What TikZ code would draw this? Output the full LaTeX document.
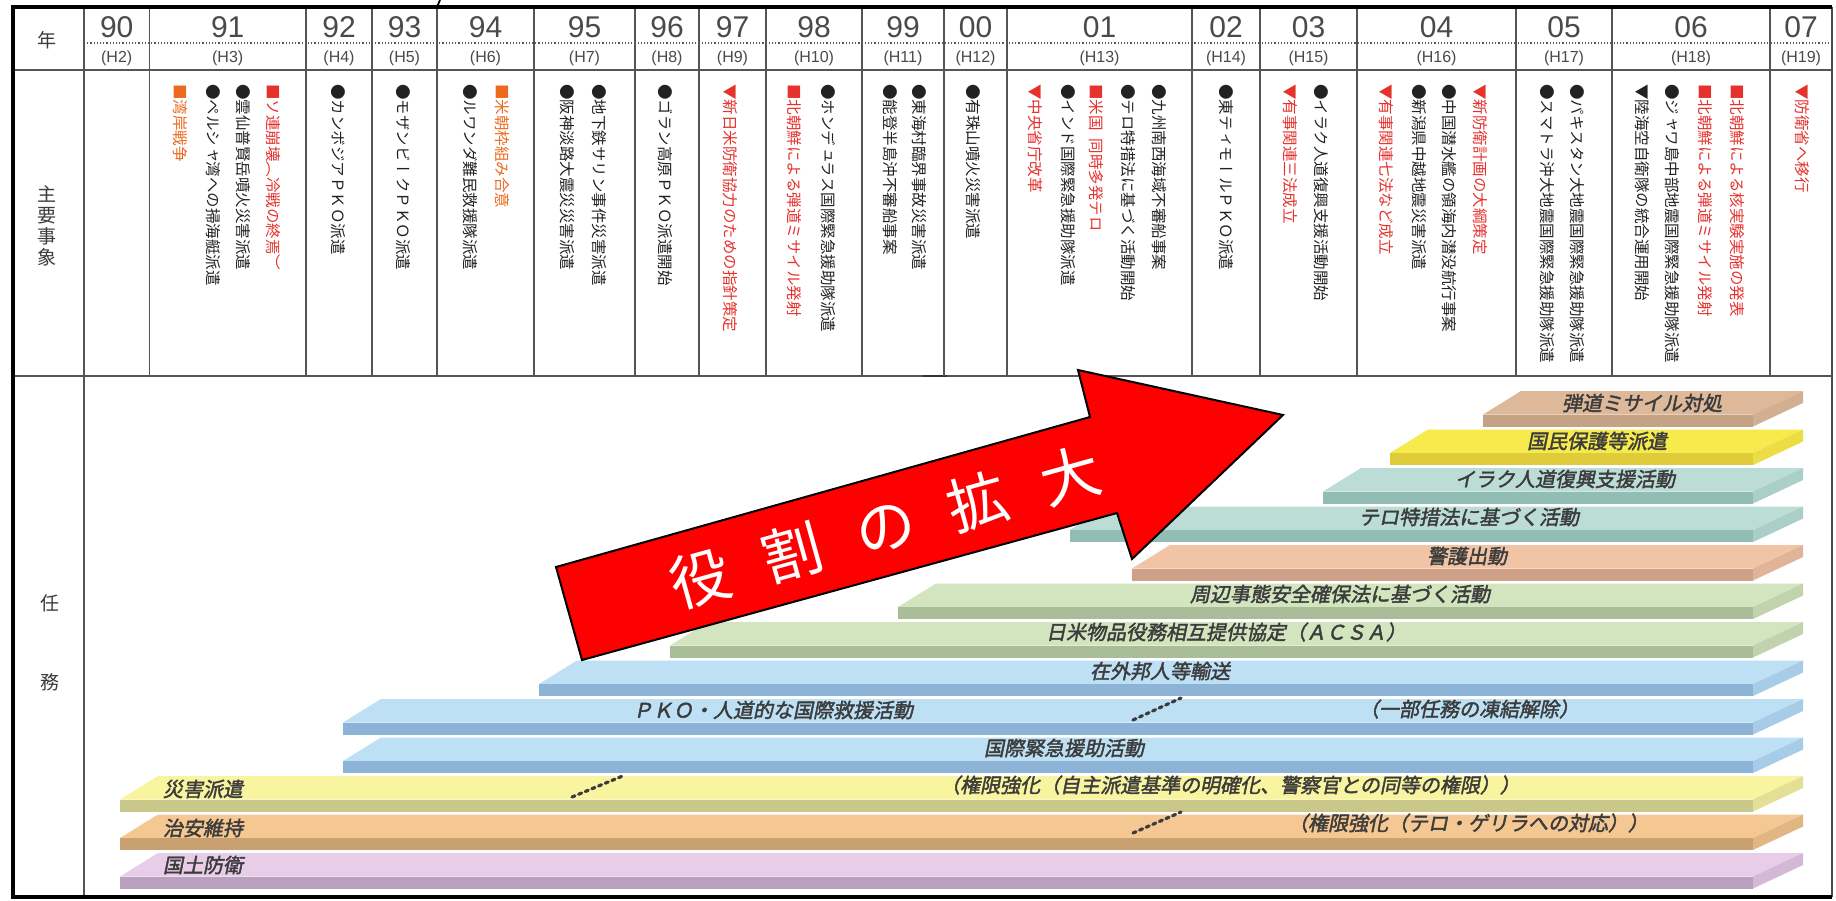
\documentclass[tikz,border=0pt]{standalone}
\usepackage{fontspec}
\setmainfont{Noto Sans CJK JP}
\newfontfamily\tatefont[Vertical=RotatedGlyphs]{Noto Sans CJK JP}
\newfontfamily\numfont{Liberation Sans}
\newfontfamily\slabfont[FakeSlant=0.2,FakeBold=2]{Noto Sans CJK JP}

\definecolor{redmark}{HTML}{E5322D}
\definecolor{orangemark}{HTML}{EC6A1E}
\definecolor{blackmark}{HTML}{222222}
\definecolor{yeargray}{HTML}{4A4A4A}
\definecolor{linegray}{HTML}{555555}
\definecolor{labelgray}{HTML}{3C3C3C}
\definecolor{purpletop}{HTML}{E8CDE8}
\definecolor{purplefront}{HTML}{B9A0BE}
\definecolor{orangetop}{HTML}{F5C893}
\definecolor{orangefront}{HTML}{C9A070}
\definecolor{yellowtop}{HTML}{F8F4A0}
\definecolor{yellowfront}{HTML}{C9C88A}
\definecolor{bluetop}{HTML}{BDE0F5}
\definecolor{bluefront}{HTML}{8DB4D6}
\definecolor{greentop}{HTML}{D2E5BE}
\definecolor{greenfront}{HTML}{A9BE98}
\definecolor{peachtop}{HTML}{F0C4A4}
\definecolor{peachfront}{HTML}{CFA088}
\definecolor{tealtop}{HTML}{BCDDD6}
\definecolor{tealfront}{HTML}{92BDB5}
\definecolor{brighttop}{HTML}{F6EA4C}
\definecolor{brightfront}{HTML}{E0CC3A}
\definecolor{tantop}{HTML}{DDB99A}
\definecolor{tanfront}{HTML}{C4A285}

\tikzset{
  frame/.style={line width=1.6pt, draw=black},
  gridline/.style={line width=0.6pt, draw=linegray},
  yeardots/.style={densely dotted, line width=0.6pt, draw=linegray},
  yearnum/.style={font=\numfont\fontsize{15}{15}\selectfont, text=yeargray, inner sep=0pt},
  heisei/.style={font=\numfont\fontsize{8}{8}\selectfont, text=yeargray, inner sep=0pt},
  sidehead/.style={font=\fontsize{9.5}{10.4}\selectfont, text=labelgray, inner sep=0pt, align=center},
  event/.style={rotate=-90, anchor=west, inner sep=0pt, font=\tatefont\fontsize{7.75}{7.75}\selectfont},
  blackev/.style={event, text=blackmark},
  redev/.style={event, text=redmark},
  orangeev/.style={event, text=orangemark},
  slablabel/.style={font=\slabfont\fontsize{10}{10}\selectfont, text=labelgray, inner sep=0pt},
  dotlink/.style={dotted, line width=1.6pt, line cap=round, draw=labelgray},
  bigarrow/.style={fill=red, draw=black, line width=1pt, line join=miter},
  arrowtext/.style={font=\fontsize{30}{30}\selectfont, text=white, inner sep=0pt}
}

% STUFE: #1 hintere Kante (y), #2 linke vordere Ecke (x), #3 Oberseite, #4 Vorderseite
\newcommand{\taskslab}[4]{%
  \fill[#3] (#2,#1+23.5) -- (#2+38,#1) -- (1803,#1) -- (1753,#1+23.5) -- cycle;
  \fill[#4] (#2,#1+23.5) rectangle (1753,#1+35.5);
  \fill[#3!55!#4] (1753,#1+23.5) -- (1803,#1) -- (1803,#1+12) -- (1753,#1+35.5) -- cycle;
}

\begin{document}
\begin{tikzpicture}[x=0.5pt,y=-0.5pt]

\fill[white] (0,0) rectangle (1836,900);
\useasboundingbox (0,0) rectangle (1836,900);

%TABELLE (Linien)
\draw[gridline] (13,70) -- (1832,70);
\draw[gridline] (13,376) -- (1832,376);
\draw[line width=1.3pt, draw=black!80] (923,376) -- (947,376);
\draw[yeardots] (84,43) -- (1832,43);
\draw[gridline] (84,7) -- (84,897);
\draw[gridline] (149.5,7) -- (149.5,376);
\draw[gridline] (306,7) -- (306,376);
\draw[gridline] (372,7) -- (372,376);
\draw[gridline] (437,7) -- (437,376);
\draw[gridline] (534,7) -- (534,376);
\draw[gridline] (635,7) -- (635,376);
\draw[gridline] (699,7) -- (699,376);
\draw[gridline] (766,7) -- (766,376);
\draw[gridline] (862,7) -- (862,376);
\draw[gridline] (944,7) -- (944,376);
\draw[gridline] (1007,7) -- (1007,376);
\draw[gridline] (1192,7) -- (1192,376);
\draw[gridline] (1260,7) -- (1260,376);
\draw[gridline] (1357,7) -- (1357,376);
\draw[gridline] (1516,7) -- (1516,376);
\draw[gridline] (1612,7) -- (1612,376);
\draw[gridline] (1770,7) -- (1770,376);
\draw[line width=0.8pt, draw=black!70] (1832,7) -- (1832,897);
\draw[frame] (1832,7) -- (13,7) -- (13,897) -- (1832,897);
\draw[line width=0.9pt] (440,0) -- (437,7);

%KOPFZEILE (Jahre)
\node[sidehead] (nen) at (47,40) {年};
\node[yearnum] (y90) at (116.7,27) {90};
\node[yearnum] (y91) at (227.7,27) {91};
\node[yearnum] (y92) at (339,27) {92};
\node[yearnum] (y93) at (404.5,27) {93};
\node[yearnum] (y94) at (485.5,27) {94};
\node[yearnum] (y95) at (584.5,27) {95};
\node[yearnum] (y96) at (667,27) {96};
\node[yearnum] (y97) at (732.5,27) {97};
\node[yearnum] (y98) at (814,27) {98};
\node[yearnum] (y99) at (903,27) {99};
\node[yearnum] (y00) at (975.5,27) {00};
\node[yearnum] (y01) at (1099.5,27) {01};
\node[yearnum] (y02) at (1226,27) {02};
\node[yearnum] (y03) at (1308.5,27) {03};
\node[yearnum] (y04) at (1436.5,27) {04};
\node[yearnum] (y05) at (1564,27) {05};
\node[yearnum] (y06) at (1691,27) {06};
\node[yearnum] (y07) at (1801,27) {07};

\node[heisei] (h02) at (116.7,58) {(H2)};
\node[heisei] (h03) at (227.7,58) {(H3)};
\node[heisei] (h04) at (339,58) {(H4)};
\node[heisei] (h05) at (404.5,58) {(H5)};
\node[heisei] (h06) at (485.5,58) {(H6)};
\node[heisei] (h07) at (584.5,58) {(H7)};
\node[heisei] (h08) at (667,58) {(H8)};
\node[heisei] (h09) at (732.5,58) {(H9)};
\node[heisei] (h10) at (814,58) {(H10)};
\node[heisei] (h11) at (903,58) {(H11)};
\node[heisei] (h12) at (975.5,58) {(H12)};
\node[heisei] (h13) at (1099.5,58) {(H13)};
\node[heisei] (h14) at (1226,58) {(H14)};
\node[heisei] (h15) at (1308.5,58) {(H15)};
\node[heisei] (h16) at (1436.5,58) {(H16)};
\node[heisei] (h17) at (1564,58) {(H17)};
\node[heisei] (h18) at (1691,58) {(H18)};
\node[heisei] (h19) at (1801,58) {(H19)};

%ZEILE: MAIN EVENTS
\node[sidehead] (mainev) at (47,226) {主\\要\\事\\象};

%SPALTE 91
\node[orangeev] (e91a) at (180,84) {■湾岸戦争};
\node[blackev] (e91b) at (213.5,84) {●ペルシャ湾への掃海艇派遣};
\node[blackev] (e91c) at (243,84) {●雲仙普賢岳噴火災害派遣};
\node[redev] (e91d) at (273,84) {■ソ連崩壊（冷戦の終焉）};

%SPALTE 92 / 93
\node[blackev] (e92a) at (338,84) {●カンボジアＰＫＯ派遣};
\node[blackev] (e93a) at (403,84) {●モザンビークＰＫＯ派遣};

%SPALTE 94
\node[blackev] (e94a) at (470.5,84) {●ルワンダ難民救援隊派遣};
\node[orangeev] (e94b) at (502,84) {■米朝枠組み合意};

%SPALTE 95
\node[blackev] (e95a) at (567,84) {●阪神淡路大震災災害派遣};
\node[blackev] (e95b) at (599,84) {●地下鉄サリン事件災害派遣};

%SPALTE 96 / 97
\node[blackev] (e96a) at (665,84) {●ゴラン高原ＰＫＯ派遣開始};
\node[redev] (e97a) at (730.5,84) {▼新日米防衛協力のための指針策定};

%SPALTE 98
\node[redev] (e98a) at (794,84) {■北朝鮮による弾道ミサイル発射};
\node[blackev] (e98b) at (828.5,84) {●ホンデュラス国際緊急援助隊派遣};

%SPALTE 99 / 00
\node[blackev] (e99a) at (890.6,84) {●能登半島沖不審船事案};
\node[blackev] (e99b) at (919.5,84) {●東海村臨界事故災害派遣};
\node[blackev] (e00a) at (973.7,84) {●有珠山噴火災害派遣};

%SPALTE 01
\node[redev] (e01a) at (1035,84) {▼中央省庁改革};
\node[blackev] (e01b) at (1068.6,84) {●インド国際緊急援助隊派遣};
\node[redev] (e01c) at (1096,84) {■米国\hspace{0.5em}同時多発テロ};
\node[blackev] (e01d) at (1128,84) {●テロ特措法に基づく活動開始};
\node[blackev] (e01e) at (1159.5,84) {●九州南西海域不審船事案};

%SPALTE 02 / 03
\node[blackev] (e02a) at (1226,84) {●東ティモールＰＫＯ派遣};
\node[redev] (e03a) at (1290,84) {▼有事関連三法成立};
\node[blackev] (e03b) at (1321,84) {●イラク人道復興支援活動開始};

%SPALTE 04
\node[redev] (e04a) at (1386,84) {▼有事関連七法など成立};
\node[blackev] (e04b) at (1419,84) {●新潟県中越地震災害派遣};
\node[blackev] (e04c) at (1449.5,84) {●中国潜水艦の領海内潜没航行事案};
\node[redev] (e04d) at (1480,84) {▼新防衛計画の大綱策定};

%SPALTE 05
\node[blackev] (e05a) at (1547,84) {●スマトラ沖大地震国際緊急援助隊派遣};
\node[blackev] (e05b) at (1577,84) {●パキスタン大地震国際緊急援助隊派遣};

%SPALTE 06 / 07
\node[blackev] (e06a) at (1642,84) {▼陸海空自衛隊の統合運用開始};
\node[blackev] (e06b) at (1672.6,84) {●ジャワ島中部地震国際緊急援助隊派遣};
\node[redev] (e06c) at (1705,84) {■北朝鮮による弾道ミサイル発射};
\node[redev] (e06d) at (1737.5,84) {■北朝鮮による核実験実施の発表};
\node[redev] (e07a) at (1802,84) {▼防衛省へ移行};

%ZEILE: TASKS
\node[sidehead] (nin) at (50,603) {任};
\node[sidehead] (mu) at (50,682) {務};

%STUFE NR. 0 bis 12 (von unten)
\taskslab{853}{120}{purpletop}{purplefront}
\taskslab{814.5}{120}{orangetop}{orangefront}
\taskslab{776}{120}{yellowtop}{yellowfront}
\taskslab{737.5}{343}{bluetop}{bluefront}
\taskslab{699}{343}{bluetop}{bluefront}
\taskslab{660.5}{539}{bluetop}{bluefront}
\taskslab{622}{670}{greentop}{greenfront}
\taskslab{583.5}{898}{greentop}{greenfront}
\taskslab{545}{1132}{peachtop}{peachfront}
\taskslab{506.5}{1070}{tealtop}{tealfront}
\taskslab{468}{1323}{tealtop}{tealfront}
\taskslab{429.5}{1390}{brighttop}{brightfront}
\taskslab{391}{1483}{tantop}{tanfront}

\node[slablabel] (t0) at (203,865) {国土防衛};
\node[slablabel] (t1) at (203,828) {治安維持};
\node[slablabel] (t1b) at (1468,823) {（権限強化（テロ・ゲリラへの対応））};
\node[slablabel] (t2) at (203,789) {災害派遣};
\node[slablabel] (t2b) at (1230,785) {（権限強化（自主派遣基準の明確化、警察官との同等の権限））};
\node[slablabel] (t3) at (1064,748) {国際緊急援助活動};
\node[slablabel] (t4) at (773,710) {ＰＫＯ・人道的な国際救援活動};
\node[slablabel] (t4b) at (1469,709) {（一部任務の凍結解除）};
\node[slablabel] (t5) at (1160,671) {在外邦人等輸送};
\node[slablabel] (t6) at (1226,632) {日米物品役務相互提供協定（ＡＣＳＡ）};
\node[slablabel] (t7) at (1340,594) {周辺事態安全確保法に基づく活動};
\node[slablabel] (t8) at (1467,556) {警護出動};
\node[slablabel] (t9) at (1469,517) {テロ特措法に基づく活動};
\node[slablabel] (t10) at (1565,479) {イラク人道復興支援活動};
\node[slablabel] (t11) at (1597,441) {国民保護等派遣};
\node[slablabel] (t12) at (1642,403) {弾道ミサイル対処};

\draw[dotlink] (572,797) -- (625,775);
\draw[dotlink] (1133,720) -- (1181,698);
\draw[dotlink] (1133,833) -- (1181,812);

%PFEIL
\draw[bigarrow] (556,567) -- (1090,417) -- (1078,370) -- (1283,415) -- (1132,559) -- (1117,513) -- (582,660) -- cycle;
\node[arrowtext, rotate=15.6] (grow) at (885,527) {役\hspace{0.6em}割\hspace{0.6em}の\hspace{0.6em}拡\hspace{0.6em}大};

\end{tikzpicture}
\end{document}
